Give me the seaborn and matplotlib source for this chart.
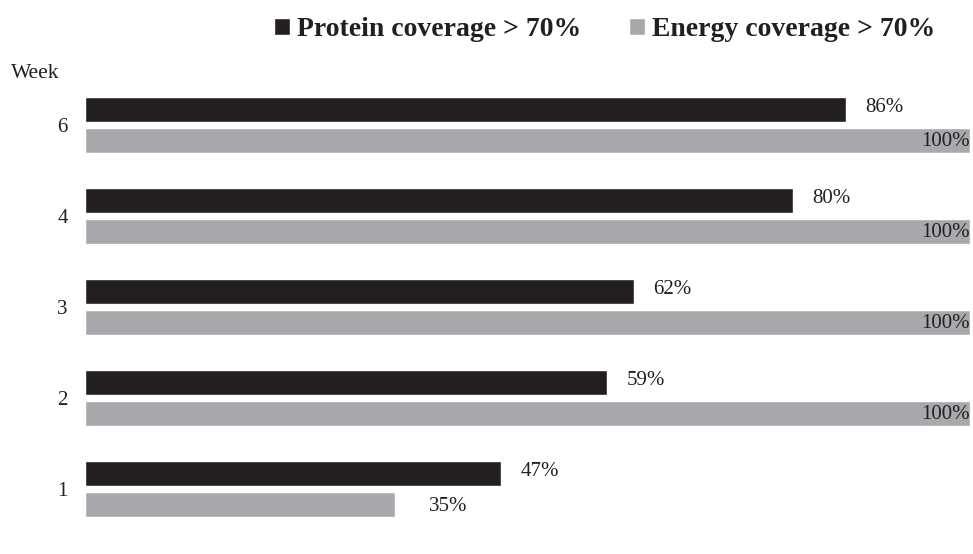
import matplotlib
matplotlib.use("Agg")
import matplotlib.pyplot as plt
import seaborn as sns
import pandas as pd

weeks = ["6", "4", "3", "2", "1"]
protein = [86, 80, 62, 59, 47]
energy = [100, 100, 100, 100, 35]
series_names = ["Protein coverage > 70%", "Energy coverage > 70%"]
colors = ["#231f20", "#a7a9ac"]

df = pd.DataFrame({
    "Week": weeks * 2,
    "Coverage": protein + energy,
    "Series": [series_names[0]] * len(weeks) + [series_names[1]] * len(weeks),
})

sns.set_theme(style="white")
plt.rcParams["font.family"] = ["Liberation Serif", "DejaVu Serif"]
ink = "#231f20"

fig = plt.figure(figsize=(9.73, 5.54), dpi=100)
ax = fig.add_axes([85 / 973, 0.0352, 885 / 973, 0.8213])

sns.barplot(data=df, y="Week", x="Coverage", hue="Series", order=weeks,
            hue_order=series_names, palette=colors, orient="h",
            width=0.67, gap=0.18, saturation=1, ax=ax, legend=True)

ax.set_xlim(0, 100)
ax.set_xlabel("")
ax.set_ylabel("")
ax.set_xticks([])
sns.despine(ax=ax, left=True, bottom=True)
ax.tick_params(axis="y", length=0, pad=12.5, labelsize=15, labelcolor=ink)

# value labels: outside the bar, or right-aligned inside when the bar is full
for i, (container, vals) in enumerate(zip(ax.containers, [protein, energy])):
    for patch, v in zip(container.patches, vals):
        y = patch.get_y() + patch.get_height() / 2
        if v >= 100:
            ax.annotate(f"{v}%", (v, y), xytext=(0, -1), textcoords="offset points",
                        ha="right", va="center", fontsize=15, color=ink)
        elif i == 0:
            ax.annotate(f"{v}%", (v, y), xytext=(14, 1.5), textcoords="offset points",
                        ha="left", va="center", fontsize=15, color=ink)
        else:
            ax.annotate(f"{v}%", (v, y), xytext=(24.5, -1.5), textcoords="offset points",
                        ha="left", va="center", fontsize=15, color=ink)

fig.text(11 / 973, 1 - 78 / 554, "Week", fontsize=15.5, color=ink,
         ha="left", va="baseline")

sns.move_legend(ax, "center right", bbox_to_anchor=(946 / 973, 1 - 30 / 554),
                bbox_transform=fig.transFigure, ncol=2, title=None, frameon=False,
                borderaxespad=0, handlelength=0.55, handleheight=0.55,
                handletextpad=0.25, columnspacing=1.75,
                prop={"weight": "bold", "size": 20})
for t in ax.get_legend().get_texts():
    t.set_color(ink)

fig.savefig("out.png", dpi=100, facecolor="white")
